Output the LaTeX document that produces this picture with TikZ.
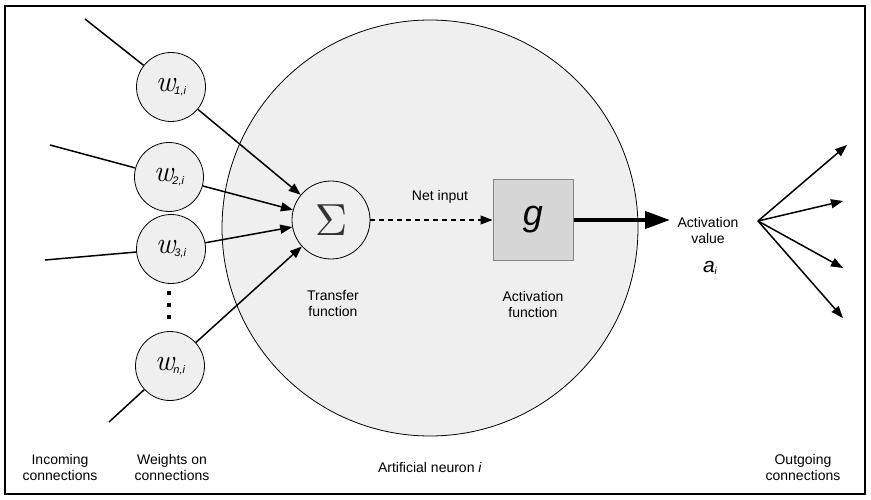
\documentclass[tikz,border=0pt]{standalone}
\usepackage{fontspec}
\setmainfont{Liberation Sans}
\newfontfamily\lmfont{Latin Modern Roman}
\usetikzlibrary{arrows.meta}
\definecolor{neurongray}{HTML}{EFEFEF}
\definecolor{boxgray}{HTML}{D6D6D6}
\definecolor{boxedge}{HTML}{858585}
\tikzset{
  lbl/.style={align=center, font=\fontsize{14}{16}\selectfont, inner sep=0pt},
  bigc/.style={circle, draw, line width=0.8pt, fill=neurongray, minimum size=416pt, inner sep=0pt},
  wcirc/.style={circle, draw, line width=0.8pt, fill=neurongray, minimum size=69pt, inner sep=0pt},
  sumc/.style={circle, draw, line width=0.8pt, fill=neurongray, minimum size=78pt, inner sep=0pt},
  gbox/.style={draw=boxedge, line width=1pt, fill=boxgray, minimum size=80pt, inner sep=0pt},
  conn/.style={line width=1.5pt},
  arr/.style={line width=1.5pt, -{Triangle[length=12pt,width=9pt]}},
  darr/.style={line width=1.2pt, dash pattern=on 5pt off 4pt, -{Triangle[length=12pt,width=9pt]}},
  thickarr/.style={line width=4pt, -{Triangle[length=25pt,width=17pt]}},
  dotn/.style={rectangle, fill=black, minimum size=3.5pt, inner sep=0pt}
}
\newcommand{\wlabel}[1]{{\lmfont\itshape\fontsize{30}{30}\selectfont w}\kern-1pt\raisebox{-2.5pt}{\fontsize{11}{11}\selectfont\itshape #1}}
\begin{document}
\begin{tikzpicture}[x=1pt,y=-1pt]
\useasboundingbox (0,0) rectangle (871,500);
\draw[line width=1.2pt] (5,6) rectangle (865,494);

\node[bigc] (neuron) at (430,228) {};

\node[wcirc] (w1) at (171,87) {\wlabel{1,i}};
\node[wcirc] (w2) at (169,177) {\wlabel{2,i}};
\node[wcirc] (w3) at (171,249) {\wlabel{3,i}};
\node[wcirc] (wn) at (170,366) {\wlabel{n,i}};

\node[dotn] (d1) at (169,293) {};
\node[dotn] (d2) at (169,305) {};
\node[dotn] (d3) at (169,317) {};

\node[sumc] (sigma) at (331,220) {\color{black!80}\scalebox{4.5}{$\Sigma$}};
\node[gbox] (g) at (533,220) {\fontsize{36}{36}\selectfont\itshape g};

\coordinate (in1) at (85,19);
\coordinate (in2) at (50,145);
\coordinate (in3) at (45,260);
\coordinate (in4) at (109,422);

\draw[conn] (in1) -- (w1);
\draw[conn] (in2) -- (w2);
\draw[conn] (in3) -- (w3);
\draw[conn] (in4) -- (wn);

\draw[arr] (w1) -- (sigma);
\draw[arr] (w2) -- (sigma);
\draw[arr] (w3) -- (sigma);
\draw[arr] (wn) -- (sigma);

\draw[darr] (sigma) -- (g);
\node[lbl] (netin) at (440,197) {Net input};

\coordinate (actend) at (670,220);
\draw[thickarr] (g.east) -- (actend);

\node[lbl] (transfer) at (333,304) {Transfer\\function};
\node[lbl] (actfun) at (533,304) {Activation\\function};
\node[lbl] (actval) at (708,230) {Activation\\value};
\node[inner sep=0pt, font=\fontsize{21}{21}\selectfont\itshape] (ai) at (710,268) {a\raisebox{-2pt}{\fontsize{10}{10}\selectfont i}};

\coordinate (fan) at (758,221);
\coordinate (o1) at (847,145);
\coordinate (o2) at (843,201);
\coordinate (o3) at (843,268);
\coordinate (o4) at (843,318);
\draw[arr] (fan) -- (o1);
\draw[arr] (fan) -- (o2);
\draw[arr] (fan) -- (o3);
\draw[arr] (fan) -- (o4);

\node[lbl] (incoming) at (60,467) {Incoming\\connections};
\node[lbl] (weights) at (172,467) {Weights on\\connections};
\node[lbl] (artneuron) at (430,467) {Artificial neuron \textit{i}};
\node[lbl] (outgoing) at (803,467) {Outgoing\\connections};
\end{tikzpicture}
\end{document}
